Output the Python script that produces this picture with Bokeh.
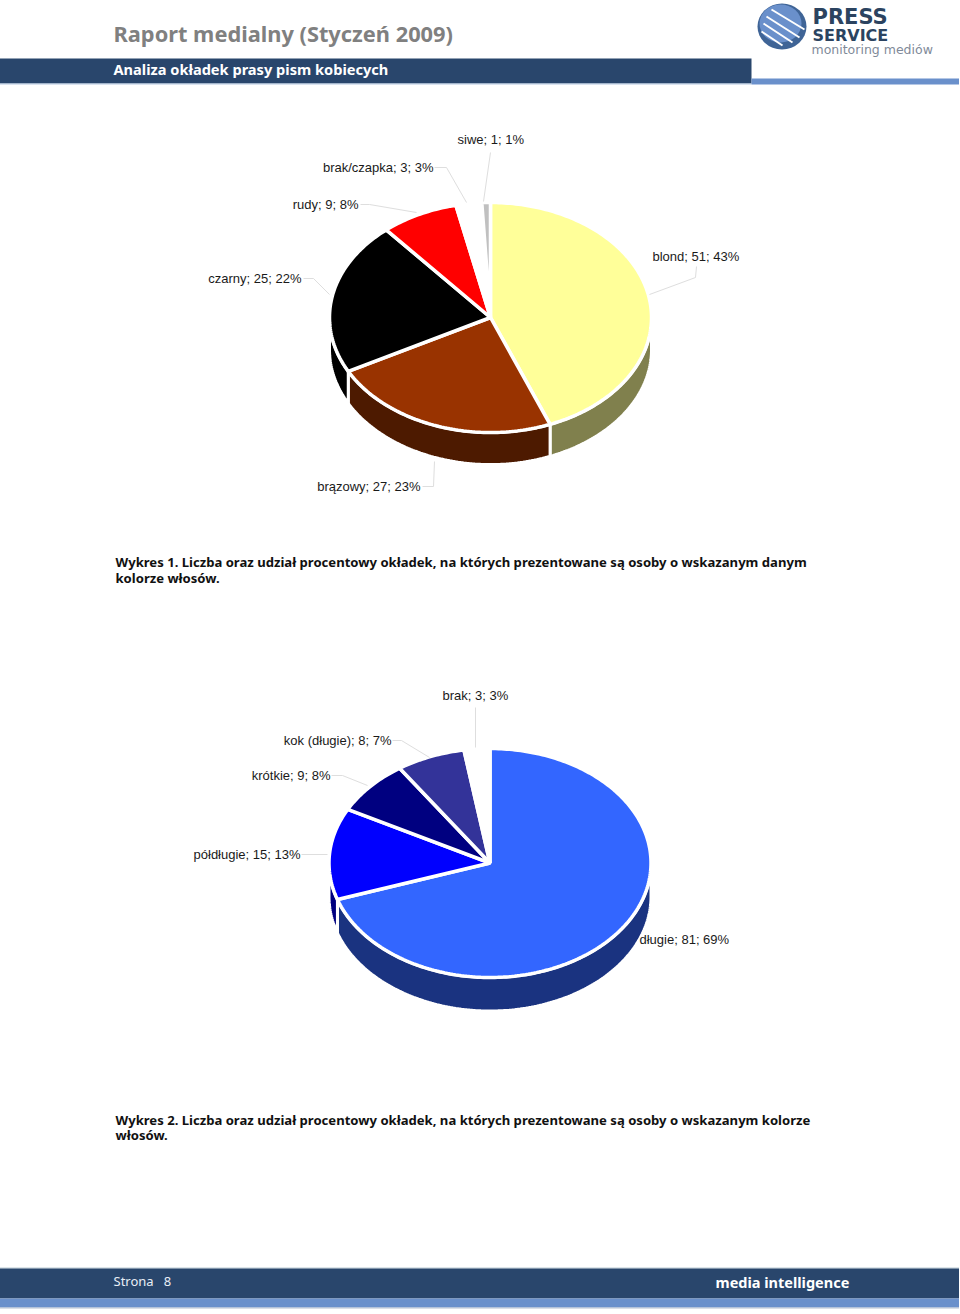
import math
from bokeh.plotting import figure
from bokeh.models import Range1d
from bokeh.core.properties import value
from bokeh.embed import file_html
from bokeh.resources import INLINE

# ---- data ----
hair_names = ["blond", "brązowy", "czarny", "rudy", "brak/czapka", "siwe"]
hair_values = [51, 27, 25, 9, 3, 1]
hair_pcts = [43, 23, 22, 8, 3, 1]
length_names = ["długie", "półdługie", "krótkie", "kok (długie)", "brak"]
length_values = [81, 15, 9, 8, 3]
length_pcts = [69, 13, 8, 7, 3]

# ---- styles / layout ----
hair_top = ["#FFFF99", "#993300", "#000000", "#FF0000", "#FFFFFF", "#C0C0C0"]
hair_side = ["#80804D", "#4D1A00", "#000000", "#800000", "#FFFFFF", "#606060"]
length_top = ["#3366FF", "#0000FF", "#000080", "#333399", "#FFFFFF"]
length_side = ["#1A3380", "#000080", "#000040", "#1A1A4D", "#FFFFFF"]
DARK = "#29466C"
BLUE = "#6A90CB"
LEADER = "#DEDEDE"
LABEL_COLOR = "#1A1A1A"

hair_label_pos = [(653, 257, "left"), (421, 487, "right"), (302, 279, "right"),
                  (359, 205, "right"), (434, 168, "right"), (458, 140, "left")]
length_label_pos = [(640, 940, "left"), (301, 855, "right"), (331, 776, "right"),
                    (392, 741, "right"), (443, 696, "left")]
leaders = [
    ([650, 696, 697], [295, 278, 267]),
    ([423, 434, 435], [487, 487, 462]),
    ([304, 314, 330], [279, 279, 295]),
    ([361, 370, 417], [205, 205, 213]),
    ([435, 447, 467], [168, 168, 203]),
    ([491, 484], [153, 202]),
    ([476, 476], [708, 748]),
    ([393, 402, 430], [741, 741, 758]),
    ([332, 343, 368], [776, 776, 786]),
    ([302, 328], [855, 855]),
]

p = figure(width=960, height=1314, output_backend="svg", toolbar_location=None,
           x_range=Range1d(0, 960), y_range=Range1d(1314, 0),
           min_border=0, outline_line_color=None, background_fill_color="white",
           border_fill_color="white", styles={"margin-left": "-1px", "margin-top": "-1px"})
p.axis.visible = False
p.grid.visible = False


def band(x0, x1, y0, y1, color):
    p.quad(left=[x0], right=[x1], top=[y0], bottom=[y1], fill_color=color, line_color=None)


def txt(x, y, s, size, color, font, style="normal", align="left"):
    p.text(x=[x], y=[y], text=[s], text_font=value(font), text_font_size=f"{size}px",
           text_font_style=style, text_color=color, text_align=align, text_baseline="middle")


# header and footer bands
band(-5, 752, 59, 84, DARK)
band(-5, 752, 84, 85, "#B4C8E2")
band(752, 965, 79, 85, BLUE)
band(-5, 965, 1268, 1269, "#B9CBD6")
band(-5, 965, 1269, 1299, DARK)
band(-5, 965, 1299, 1308, BLUE)
band(-5, 965, 1308, 1309, "#B4BFD0")

TITLE_FONT = "Noto Sans"
txt(114, 34, "Raport medialny (Styczeń 2009)", 21.8, "#808080", TITLE_FONT, "bold")
txt(114, 69, "Analiza okładek prasy pism kobiecych", 14.6, "white", TITLE_FONT, "bold")
txt(114, 1281, "Strona\u00a0\u00a0\u00a08", 13, "#E8EEF6", TITLE_FONT)
txt(716, 1282, "media intelligence", 14.5, "white", TITLE_FONT, "bold")

# logo
p.ellipse(x=[782.5], y=[27], width=49, height=46, fill_color="#3F6496", line_color=None)
p.ellipse(x=[781], y=[24], width=42, height=38, fill_color="#6A90CB", line_color=None)
p.multi_line(xs=[[772, 805], [767, 800], [764, 793], [762, 783]],
             ys=[[10, 30], [17, 38], [24, 43], [32, 46]], line_color="white", line_width=2)
txt(813, 17, "PRESS", 21, "#2B4360", "DejaVu Sans", "bold")
txt(813, 36, "SERVICE", 16, "#2B4360", "DejaVu Sans", "bold")
txt(812, 50, "monitoring mediów", 12.5, "#7F8A99", "DejaVu Sans")


def pie(cx, cy, rx, ry, depth, values, tops, sides):
    total = sum(values)
    angles = [0]
    for v in values:
        angles.append(angles[-1] + 360 * v / total)

    def arc(a0, a1, dy=0):
        n = max(2, int(abs(a1 - a0)) + 1)
        ts = [math.radians(a0 + (a1 - a0) * i / (n - 1)) for i in range(n)]
        return [cx + rx * math.sin(t) for t in ts], [cy - ry * math.cos(t) + dy for t in ts]

    sx, sy, sc = [], [], []
    for a0, a1, c in zip(angles[:-1], angles[1:], sides):
        lo, hi = max(a0, 90), min(a1, 270)
        if hi <= lo:
            continue
        x1, y1 = arc(lo, hi)
        x2, y2 = arc(hi, lo, depth)
        sx.append(x1 + x2)
        sy.append(y1 + y2)
        sc.append(c)
    p.patches(sx, sy, fill_color=sc, line_color="white", line_width=3)

    tx, ty = [], []
    for a0, a1 in zip(angles[:-1], angles[1:]):
        x1, y1 = arc(a0, a1)
        tx.append([cx] + x1)
        ty.append([cy] + y1)
    p.patches(tx, ty, fill_color=tops, line_color="white", line_width=3.5)


pie(491, 318, 161, 115, 32, hair_values, hair_top, hair_side)
pie(490.5, 863.5, 161, 114.5, 33.5, length_values, length_top, length_side)

p.multi_line(xs=[l[0] for l in leaders], ys=[l[1] for l in leaders],
             line_color=LEADER, line_width=1)

for names, vals, pcts, pos in [(hair_names, hair_values, hair_pcts, hair_label_pos),
                               (length_names, length_values, length_pcts, length_label_pos)]:
    for n, v, pc, (x, y, al) in zip(names, vals, pcts, pos):
        txt(x, y, f"{n}; {v}; {pc}%", 13, LABEL_COLOR, "Liberation Sans", align=al)

CAP = "Noto Sans"
txt(116, 562, "Wykres 1. Liczba oraz udział procentowy okładek, na których prezentowane są osoby o wskazanym danym",
    13.1, "#111111", CAP, "bold")
txt(116, 578, "kolorze włosów.", 13.1, "#111111", CAP, "bold")
txt(116, 1120, "Wykres 2. Liczba oraz udział procentowy okładek, na których prezentowane są osoby o wskazanym kolorze",
    13.1, "#111111", CAP, "bold")
txt(116, 1135, "włosów.", 13.1, "#111111", CAP, "bold")

open("out.html", "w").write(file_html(p, INLINE))
